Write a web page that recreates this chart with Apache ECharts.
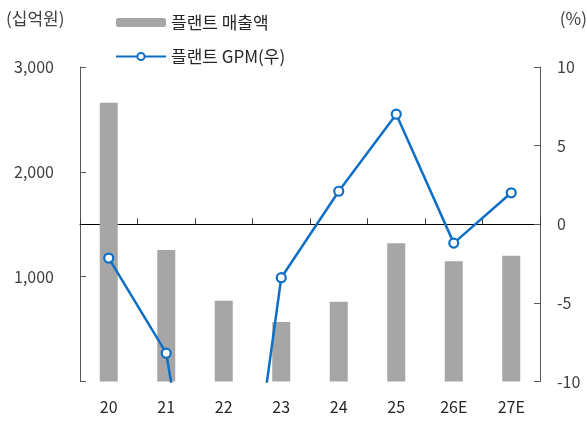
<!DOCTYPE html>
<html>
<head>
<meta charset="utf-8">
<script src="https://cdn.jsdelivr.net/npm/echarts@6/dist/echarts.min.js"></script>
<style>
  html, body { margin: 0; padding: 0; background: #fff; }
  #chart { width: 587px; height: 421px; }
</style>
</head>
<body>
<div id="chart"></div>
<script>
// 카테고리 (연도)
const years = ['20', '21', '22', '23', '24', '25', '26E', '27E']
// 플랜트 매출액 (십억원)
const plantSales = [2660, 1254, 771, 568, 761, 1318, 1147, 1200]
// 플랜트 GPM (%), 22년은 축 아래로 벗어남
const plantGpm = [-2.15, -8.2, -30, -3.4, 2.1, 7.0, -1.2, 2.0]
// 축 눈금
const leftTicks = [0, 1000, 2000, 3000]
const rightTicks = [-10, -5, 0, 5, 10]

const font = '"Noto Sans CJK KR", "Noto Sans", sans-serif'
const textColor = '#404040'
const axisGray = '#595959'

const chart = echarts.init(document.getElementById('chart'))

const options = {
  animation: false,
  textStyle: { fontFamily: font },
  grid: { left: 80, right: 47, top: 67, bottom: 39.5 },
  legend: {
    orient: 'vertical',
    left: 110,
    top: 9,
    itemWidth: 50,
    itemHeight: 9,
    itemGap: 17,
    textStyle: { fontSize: 17, color: '#262626', fontFamily: font },
    data: ['플랜트 매출액', '플랜트 GPM(우)']
  },
  graphic: [
    {
      type: 'text', left: 6, top: 10,
      style: { text: '(십억원)', fontSize: 17, fill: textColor, fontFamily: font }
    },
    {
      type: 'text', right: 0, top: 10,
      style: { text: '(%)', fontSize: 17, fill: textColor, fontFamily: font }
    }
  ],
  xAxis: [
    {
      type: 'category',
      data: years,
      position: 'bottom',
      axisLine: { show: false, onZero: false },
      axisTick: { show: false },
      axisLabel: { fontSize: 16, color: '#262626', margin: 17, fontFamily: font }
    },
    {
      // 0% 기준선
      type: 'category',
      data: years,
      position: 'bottom',
      axisLine: { show: true, onZero: true, onZeroAxisIndex: 1, lineStyle: { color: '#000', width: 1 } },
      axisTick: { show: true, inside: true, length: 6, lineStyle: { color: '#404040', width: 1 } },
      axisLabel: { show: false }
    }
  ],
  yAxis: [
    {
      type: 'value',
      min: leftTicks[0],
      max: leftTicks[leftTicks.length - 1],
      interval: 1000,
      splitLine: { show: false },
      axisLine: { show: true, lineStyle: { color: axisGray } },
      axisTick: { show: true, inside: true, length: 6, lineStyle: { color: axisGray } },
      axisLabel: {
        fontSize: 16, color: textColor, margin: 26, fontFamily: font,
        formatter: v => v === 0 ? '' : v.toLocaleString('en-US')
      }
    },
    {
      type: 'value',
      min: rightTicks[0],
      max: rightTicks[rightTicks.length - 1],
      interval: 5,
      splitLine: { show: false },
      axisLine: { show: true, lineStyle: { color: axisGray } },
      axisTick: { show: true, inside: true, length: 6, lineStyle: { color: axisGray } },
      axisLabel: { fontSize: 16, color: textColor, margin: 17, fontFamily: font }
    }
  ],
  series: [
    {
      name: '플랜트 매출액',
      type: 'bar',
      xAxisIndex: 0,
      yAxisIndex: 0,
      barWidth: 18,
      itemStyle: { color: '#a6a6a6' },
      data: plantSales
    },
    {
      name: '플랜트 GPM(우)',
      type: 'line',
      xAxisIndex: 0,
      yAxisIndex: 1,
      clip: true,
      z: 5,
      symbol: 'circle',
      symbolSize: 9,
      lineStyle: { color: '#0f6fc6', width: 2.5 },
      itemStyle: { color: '#fff', borderColor: '#0f6fc6', borderWidth: 2.2 },
      data: plantGpm
    }
  ]
}
chart.setOption(options)
</script>
</body>
</html>
